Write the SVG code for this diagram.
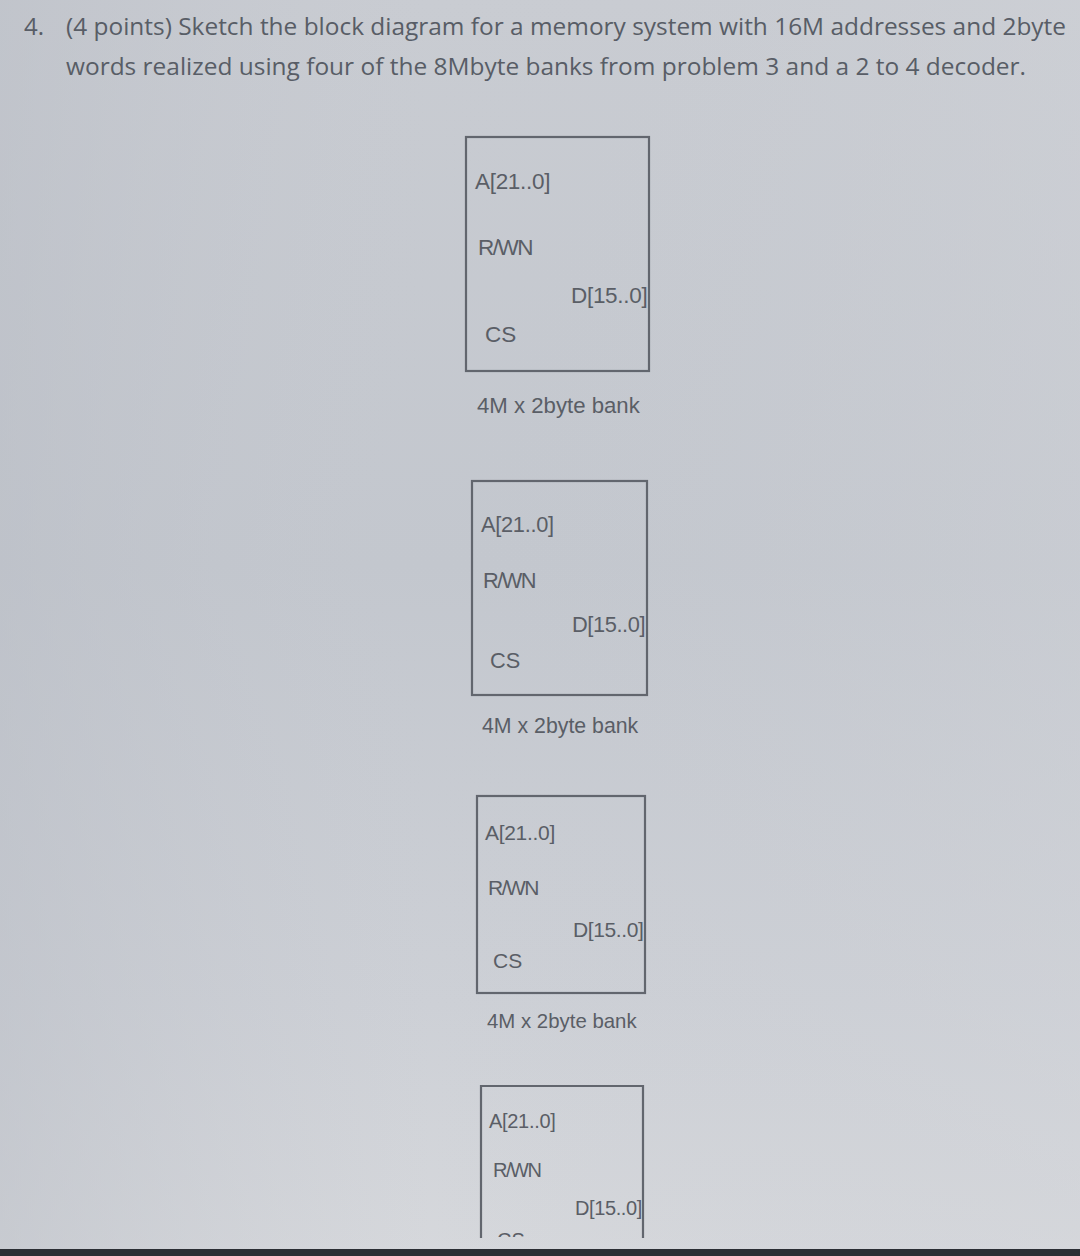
<svg xmlns="http://www.w3.org/2000/svg" width="1080" height="1256" viewBox="0 0 1080 1256">
<defs>
<linearGradient id="bg" x1="0" y1="0" x2="0" y2="1">
<stop offset="0" stop-color="#c9ccd2"/>
<stop offset="0.45" stop-color="#c3c7ce"/>
<stop offset="0.8" stop-color="#cdd0d6"/>
<stop offset="1" stop-color="#d6d8dc"/>
</linearGradient>
<linearGradient id="side" x1="0" y1="0" x2="1" y2="0">
<stop offset="0" stop-color="#b9bdc5" stop-opacity="0.5"/>
<stop offset="0.4" stop-color="#c5c8cf" stop-opacity="0"/>
<stop offset="1" stop-color="#d2d4d9" stop-opacity="0.35"/>
</linearGradient>
</defs>
<style>
.hd{font-family:"Open Sans","Noto Sans","Liberation Sans",sans-serif;font-size:24px;fill:#585d66}
.lb{font-family:"Liberation Sans",Arial,sans-serif;fill:#5a5e66}
.box{fill:none;stroke:#62666e;stroke-width:2.2}
</style>
<rect x="0" y="0" width="1080" height="1256" fill="url(#bg)"/>
<rect x="0" y="0" width="1080" height="1256" fill="url(#side)"/>
<rect x="0" y="1249" width="1080" height="7" fill="#2b2e34"/>

<g id="header">
<text class="hd" x="24" y="35">4.</text>
<text class="hd" x="66" y="35" textLength="1000" lengthAdjust="spacingAndGlyphs">(4 points) Sketch the block diagram for a memory system with 16M addresses and 2byte</text>
<text class="hd" x="66" y="75" textLength="960" lengthAdjust="spacingAndGlyphs">words realized using four of the 8Mbyte banks from problem 3 and a 2 to 4 decoder.</text>
</g>

<g id="bank1">
<rect class="box" x="466" y="137" width="183" height="234"/>
<text class="lb" x="475" y="189" font-size="22.5" letter-spacing="-0.3">A[21..0]</text>
<text class="lb" x="478" y="255" font-size="22.5" letter-spacing="-1.5">R/WN</text>
<text class="lb" x="571" y="303" font-size="22.5" letter-spacing="-0.3">D[15..0]</text>
<text class="lb" x="485" y="342" font-size="22.5">CS</text>
<text class="lb" x="477" y="413" font-size="22.2">4M x 2byte bank</text>
</g>

<g id="bank2">
<rect class="box" x="472" y="481" width="175" height="214"/>
<text class="lb" x="481" y="532" font-size="21.8" letter-spacing="-0.3">A[21..0]</text>
<text class="lb" x="483" y="588" font-size="21.8" letter-spacing="-1.5">R/WN</text>
<text class="lb" x="572" y="632" font-size="21.8" letter-spacing="-0.4">D[15..0]</text>
<text class="lb" x="490" y="668" font-size="21.8">CS</text>
<text class="lb" x="482" y="733" font-size="21.3">4M x 2byte bank</text>
</g>

<g id="bank3">
<rect class="box" x="477" y="796" width="168" height="197"/>
<text class="lb" x="485" y="840" font-size="21" letter-spacing="-0.3">A[21..0]</text>
<text class="lb" x="488" y="895" font-size="21" letter-spacing="-1.5">R/WN</text>
<text class="lb" x="573" y="937" font-size="21" letter-spacing="-0.4">D[15..0]</text>
<text class="lb" x="493" y="968" font-size="21">CS</text>
<text class="lb" x="487" y="1028" font-size="20.4">4M x 2byte bank</text>
</g>

<g id="bank4">
<path class="box" d="M481 1238 V1086 H643 V1238"/>
<text class="lb" x="489" y="1128" font-size="20" letter-spacing="-0.3">A[21..0]</text>
<text class="lb" x="493" y="1177" font-size="20" letter-spacing="-1.5">R/WN</text>
<text class="lb" x="575" y="1215" font-size="20" letter-spacing="-0.4">D[15..0]</text>
<svg x="480" y="1226" width="160" height="11" overflow="hidden"><text class="lb" x="17" y="21" font-size="20">CS</text></svg>
</g>
<g id="connectors"></g>
</svg>
